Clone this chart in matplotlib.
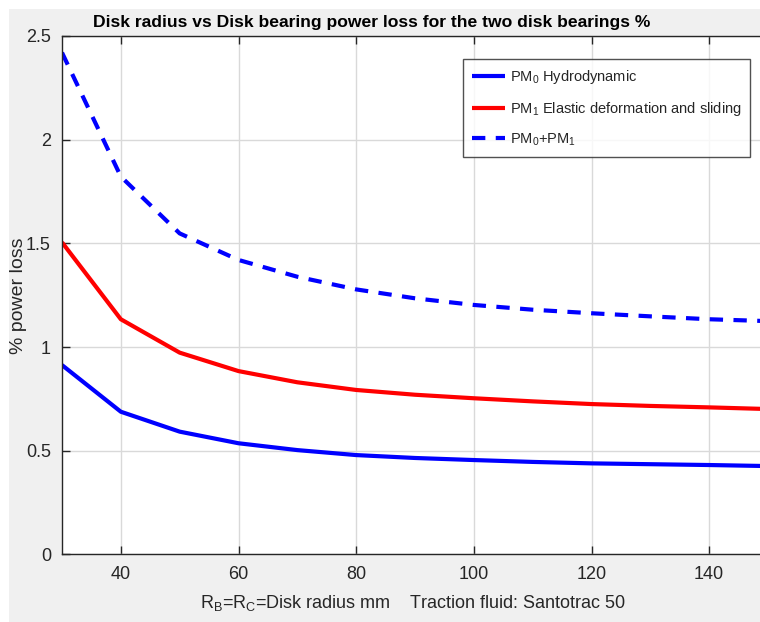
import matplotlib
matplotlib.use("Agg")
import matplotlib.pyplot as plt
from matplotlib.patches import Rectangle
from matplotlib import font_manager

# Disk radius (mm)
radius_mm = [30, 40, 50, 60, 70, 80, 90, 100, 110, 120, 130, 140, 150]

# Percent power loss per mechanism
pm0_hydrodynamic = [0.913, 0.688, 0.592, 0.536, 0.503, 0.479, 0.465, 0.455,
                    0.446, 0.439, 0.435, 0.431, 0.426]
pm1_elastic = [1.505, 1.134, 0.973, 0.884, 0.830, 0.793, 0.770, 0.753,
               0.738, 0.725, 0.716, 0.709, 0.701]
pm_total = [2.42, 1.822, 1.548, 1.420, 1.339, 1.278, 1.235, 1.203,
            1.180, 1.163, 1.148, 1.134, 1.125]

x_ticks = [40, 60, 80, 100, 120, 140]
y_ticks = [0, 0.5, 1, 1.5, 2, 2.5]
y_tick_labels = ["0", "0.5", "1", "1.5", "2", "2.5"]

names = {f.name for f in font_manager.fontManager.ttflist}
family = ["Liberation Sans Narrow", "Liberation Sans", "DejaVu Sans"]
family = [f for f in family if f in names] or ["DejaVu Sans"]
plt.rcParams["font.family"] = family
plt.rcParams["mathtext.fontset"] = "custom"
plt.rcParams["mathtext.rm"] = family[0]
plt.rcParams["mathtext.it"] = family[0]

W, H = 760, 622
fig = plt.figure(figsize=(W / 100, H / 100), dpi=100, facecolor="white")

# grey figure panel behind the axes
fig.patches.append(Rectangle((9 / W, 0), 1, 1 - 9 / H, transform=fig.transFigure,
                             facecolor="#f0f0f0", edgecolor="none", zorder=-10))

ax_left, ax_right = 62, 768
ax_top, ax_bottom = 36, 554.4
ax = fig.add_axes([ax_left / W, (H - ax_bottom) / H,
                   (ax_right - ax_left) / W, (ax_bottom - ax_top) / H])
ax.set_facecolor("white")

ax.plot(radius_mm, pm0_hydrodynamic, color="#0000ff", lw=3.0,
        label=r"PM$_0$ Hydrodynamic", solid_capstyle="butt")
ax.plot(radius_mm, pm1_elastic, color="#ff0000", lw=3.0,
        label=r"PM$_1$ Elastic deformation and sliding", solid_capstyle="butt")
ax.plot(radius_mm, pm_total, color="#0000ff", lw=3.0, ls=(0, (3.2, 2.5)),
        label=r"PM$_0$+PM$_1$", dash_capstyle="butt")

ax.set_xlim(30, 150)
ax.set_ylim(0, 2.5)
ax.set_xticks(x_ticks)
ax.set_yticks(y_ticks)
ax.set_yticklabels(y_tick_labels)
ax.grid(True, color="#d9d9d9", lw=1.0)
ax.set_axisbelow(True)
ax.tick_params(direction="in", top=True, right=True, length=6, width=1,
               color="#262626", labelsize=13, labelcolor="#262626", pad=8)
for s in ax.spines.values():
    s.set_color("#262626")
    s.set_linewidth(1.0)

fig.text(372 / W, 1 - 23 / H,
         "Disk radius vs Disk bearing power loss for the two disk bearings %",
         ha="center", va="center", fontsize=12.6, fontweight="bold", color="black")
fig.text(413 / W, 1 - 603 / H,
         r"R$_B$=R$_C$=Disk radius mm    Traction fluid: Santotrac 50",
         ha="center", va="center", fontsize=13, color="#262626")
fig.text(19 / W, 1 - 296 / H, "% power loss", rotation=90,
         ha="center", va="center", fontsize=14, color="#262626")

leg = ax.legend(loc="upper left", bbox_to_anchor=((463 - ax_left) / (ax_right - ax_left),
                                                   (ax_bottom - 59) / (ax_bottom - ax_top)),
                fontsize=10.5, frameon=True, fancybox=False, borderpad=0.6,
                handlelength=2.3, handletextpad=0.3, labelspacing=0.95,
                borderaxespad=0)
leg.get_frame().set_edgecolor("#262626")
leg.get_frame().set_linewidth(1.0)
for t in leg.get_texts():
    t.set_color("#262626")

fig.savefig("out.png", dpi=100, facecolor=fig.get_facecolor())
